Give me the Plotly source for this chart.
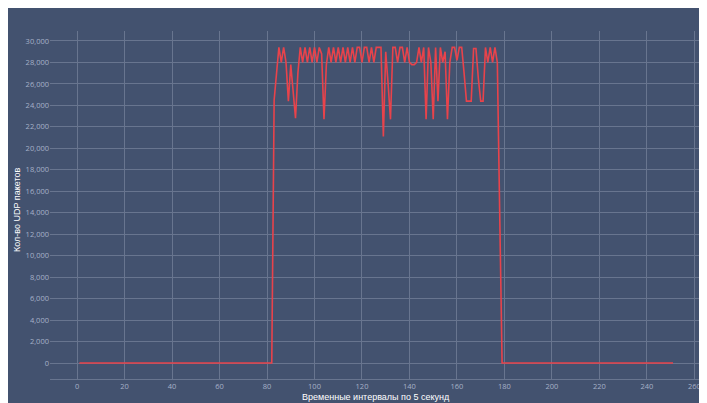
import plotly.graph_objects as go

# Time intervals (5 s each) and UDP packet counts
x_vals = list(range(1, 252))

active = [
    24500, 27200, 29400, 28000, 29400, 28000, 24400, 27800, 25300, 22800,   # 83-92
    27000, 29400, 28000, 29400, 28000, 29400, 28000, 29400, 28000, 29400,   # 93-102
    28800, 22700, 27800, 29400, 28000, 29400, 28000, 29400, 28000, 29400,   # 103-112
    28000, 29400, 28000, 29400, 28000, 29400, 29400, 28000, 29400, 29400,   # 113-122
    28000, 29400, 28000, 29400, 29400, 29400, 21100, 29000, 26000, 22700,   # 123-132
    29400, 29400, 28000, 29400, 29400, 28000, 29400, 28000, 27800, 27800,   # 133-142
    28000, 29400, 28000, 29400, 22700, 29400, 28000, 22700, 29400, 24400,   # 143-152
    29400, 28000, 29000, 22700, 28000, 29400, 29400, 28200, 29400, 29400,   # 153-162
    27000, 24400, 24400, 24400, 29300, 29300, 26500, 24400, 24400, 29400,   # 163-172
    28000, 29400, 28000, 29400, 28000, 12000,                               # 173-178
]
udp_packets = [0] * 82 + active + [0] * 73

x_ticks = list(range(0, 261, 20))
y_ticks = list(range(0, 30001, 2000))

x_title = "Временные интервалы по 5 секунд"
y_title = "Кол-во UDP пакетов"

BG = "#43526f"
GRID = "#68758f"
TICK = "#a6b1c8"

W, H = 707, 403
L, R, T, B = 42, 13, 23, 32
PW, PH = W - L - R, H - T - B

fig = go.Figure()
fig.add_trace(go.Scatter(
    x=x_vals, y=udp_packets, mode="lines",
    line=dict(color="#e8434b", width=1.6),
    hoverinfo="skip", showlegend=False,
))

title_font = dict(family="Liberation Sans, Arial, sans-serif", size=9, color="#ffffff")

fig.update_layout(
    width=W, height=H,
    margin=dict(l=L, r=R, t=T, b=B, autoexpand=False),
    paper_bgcolor=BG, plot_bgcolor=BG,
    font=dict(family="Open Sans, sans-serif", size=8, color=TICK),
    xaxis=dict(
        range=[-11.4, 263.2], tickvals=x_ticks, automargin=False,
        showgrid=True, gridcolor=GRID, gridwidth=1,
        zeroline=False, showline=True, linecolor=GRID, linewidth=1,
        ticks="", tickfont=dict(size=7.5, color=TICK),
    ),
    yaxis=dict(
        range=[-1490, 30930], tickvals=y_ticks, tickformat=",d", automargin=False,
        showgrid=True, gridcolor=GRID, gridwidth=1,
        zeroline=False, showline=False,
        ticks="", tickfont=dict(size=7.5, color=TICK),
    ),
    annotations=[
        dict(text=x_title, xref="paper", yref="paper",
             x=(368 - L) / PW, y=(H - B - 389) / PH,
             xanchor="center", yanchor="middle", showarrow=False, font=title_font),
        dict(text=y_title, xref="paper", yref="paper",
             x=(9 - L) / PW, y=(H - B - 202) / PH, textangle=-90,
             xanchor="center", yanchor="middle", showarrow=False, font=title_font),
    ],
)

fig.write_html("out.html", config={"displayModeBar": False})
